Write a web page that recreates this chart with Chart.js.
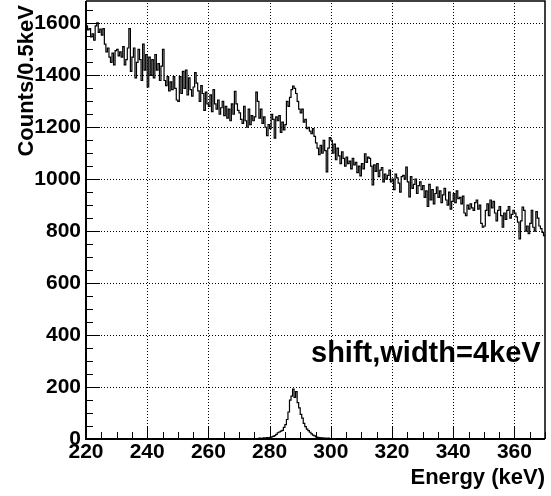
<!DOCTYPE html>
<html><head><meta charset="utf-8">
<script src="https://cdn.jsdelivr.net/npm/chart.js@4/dist/chart.umd.min.js"></script>
<style>html,body{margin:0;padding:0;background:#fff}#wrap{width:551px;height:496px}</style>
</head><body><div id="wrap"><canvas id="c" width="551" height="496"></canvas></div>
<script>
// Histogram binning (keV)
const binStart = 220;
const binWidth = 0.5;
// Main spectrum: counts per 0.5 keV bin, 220 - 370 keV
const counts = [
1590,1575,1580,1548,1560,1535,1590,1602,1565,1578,
1555,1580,1520,1490,1505,1470,1450,1485,1440,1495,
1500,1475,1490,1470,1510,1440,1460,1505,1580,1415,
1470,1505,1390,1450,1500,1460,1380,1520,1420,1480,
1355,1470,1400,1460,1390,1480,1420,1445,1380,1435,
1500,1380,1360,1395,1340,1375,1345,1395,1350,1305,
1300,1395,1330,1415,1350,1420,1325,1390,1345,1320,
1355,1410,1370,1340,1300,1360,1330,1265,1335,1290,
1280,1325,1260,1345,1290,1270,1305,1250,1275,1300,
1245,1280,1235,1270,1225,1290,1250,1338,1290,1265,
1255,1230,1215,1280,1225,1200,1270,1210,1245,1225,
1240,1335,1300,1235,1270,1215,1240,1200,1168,1210,
1195,1250,1230,1158,1240,1225,1245,1180,1220,1190,
1210,1300,1280,1315,1345,1358,1350,1330,1300,1270,
1255,1270,1220,1230,1195,1200,1185,1175,1195,1165,
1140,1120,1095,1130,1100,1150,1110,1028,1120,1160,
1150,1100,1135,1075,1120,1090,1060,1105,1080,1050,
1085,1060,1070,1040,1080,1055,1065,1025,1050,1013,
1060,1040,1098,1065,1085,1080,1050,978,1055,1030,
1060,1010,1035,1045,990,1020,1000,1015,1035,990,
1000,960,1020,1005,985,950,1010,1015,1000,1047,
990,932,1010,965,980,1000,945,975,990,960,
975,930,955,895,980,920,960,905,945,970,
930,955,910,940,965,920,900,950,885,915,
945,910,955,925,930,905,935,870,860,900,
885,905,890,880,910,920,885,900,830,815,
820,880,905,860,920,890,915,870,840,880,
895,860,815,870,845,880,895,850,865,880,
870,855,835,770,840,893,880,800,820,790,
830,880,815,800,875,850,820,810,795,783
];
// Simulated peak histogram (shift,width=4keV), non-zero region starting at 270 keV
const peakStart = 270;
const peakCounts = [
0,0,0,1,0,0,0,1,0,0,
1,2,1,3,2,3,4,3,5,4,
6,8,10,13,18,24,27,30,33,45,
55,75,104,150,165,192,160,182,140,120,
95,80,60,48,38,32,26,20,15,12,
8,6,5,4,4,3,3,2,3,2,
2,1,2,1,1,1,0,1,0,0
];
const xTicks = [220,240,260,280,300,320,340,360];
const yTicks = [0,200,400,600,800,1000,1200,1400,1600];
const xMin = 220, xMax = 370, yMin = 0, yMax = 1686;
const xMinorStep = 5, yMinorStep = 50;

function toSteps(vals, start) {
  const pts = vals.map((v, i) => ({x: start + i * binWidth, y: v}));
  pts.push({x: start + vals.length * binWidth, y: vals[vals.length - 1]});
  return pts;
}
const peakFull = counts.map((_, i) => {
  const e = binStart + i * binWidth;
  const k = Math.round((e - peakStart) / binWidth);
  return (k >= 0 && k < peakCounts.length) ? peakCounts[k] : 0;
});

const FONT = '"Liberation Sans", Arial, Helvetica, sans-serif';

const framePlugin = {
  id: 'frame',
  beforeDatasetsDraw(chart) {
    const {ctx, chartArea: a, scales: {x, y}} = chart;
    ctx.save();
    ctx.strokeStyle = '#000';
    ctx.lineWidth = 1;
    ctx.setLineDash([1, 2]);
    xTicks.forEach(v => {
      if (v === xMin) return;
      const px = Math.round(x.getPixelForValue(v)) + 0.5;
      ctx.beginPath(); ctx.moveTo(px, a.bottom); ctx.lineTo(px, a.top); ctx.stroke();
    });
    yTicks.forEach(v => {
      if (v === yMin) return;
      const py = Math.round(y.getPixelForValue(v)) + 0.5;
      ctx.beginPath(); ctx.moveTo(a.left, py); ctx.lineTo(a.right, py); ctx.stroke();
    });
    ctx.restore();
  },
  afterDatasetsDraw(chart) {
    const {ctx, chartArea: a, scales: {x, y}} = chart;
    ctx.save();
    ctx.strokeStyle = '#000';
    ctx.setLineDash([]);
    ctx.lineWidth = 1;
    for (let v = xMin; v <= xMax + 1e-9; v += xMinorStep) {
      const major = xTicks.includes(v);
      const px = Math.round(x.getPixelForValue(v)) + 0.5;
      ctx.beginPath(); ctx.moveTo(px, a.bottom); ctx.lineTo(px, a.bottom - (major ? 13 : 7)); ctx.stroke();
    }
    for (let v = yMin; v <= yMax + 1e-9; v += yMinorStep) {
      const major = yTicks.includes(v);
      const py = Math.round(y.getPixelForValue(v)) + 0.5;
      ctx.beginPath(); ctx.moveTo(a.left, py); ctx.lineTo(a.left + (major ? 14 : 7), py); ctx.stroke();
    }
    ctx.lineWidth = 2;
    ctx.beginPath();
    ctx.moveTo(a.left, a.top); ctx.lineTo(a.left, a.bottom); ctx.lineTo(a.right, a.bottom);
    ctx.stroke();
    ctx.lineWidth = 1.5;
    ctx.beginPath();
    ctx.moveTo(a.right, a.bottom); ctx.lineTo(a.right, a.top); ctx.lineTo(a.left, a.top);
    ctx.stroke();
    ctx.fillStyle = '#000';
    ctx.font = 'bold 22px ' + FONT;
    ctx.textAlign = 'right';
    ctx.textBaseline = 'alphabetic';
    ctx.fillText('Energy (keV)', a.right, 484);
    ctx.save();
    ctx.translate(33, 5);
    ctx.rotate(-Math.PI / 2);
    ctx.textAlign = 'right';
    ctx.fillText('Counts/0.5keV', 0, 0);
    ctx.restore();
    ctx.font = 'bold 29px ' + FONT;
    ctx.textAlign = 'left';
    ctx.fillText('shift,width=4keV', 311, 362);
    ctx.restore();
  }
};

new Chart(document.getElementById('c'), {
  type: 'line',
  data: {
    datasets: [
      {data: toSteps(counts, binStart), stepped: true, borderColor: '#000', borderWidth: 1.2, pointRadius: 0, fill: false},
      {data: toSteps(peakFull, binStart), stepped: true, borderColor: '#000', borderWidth: 1.2, pointRadius: 0, fill: false}
    ]
  },
  options: {
    responsive: false,
    animation: false,
    devicePixelRatio: 1,
    layout: {padding: {left: 0, right: 6, top: 1, bottom: 0}},
    plugins: {legend: {display: false}, tooltip: {enabled: false}},
    scales: {
      x: {
        type: 'linear', min: xMin, max: xMax,
        afterBuildTicks: s => { s.ticks = xTicks.map(v => ({value: v})); },
        afterFit: s => { s.height = 57; s.paddingLeft = 0; s.paddingRight = 0; },
        grid: {display: false, drawTicks: false},
        border: {display: false},
        ticks: {font: {family: FONT, size: 21, weight: 'bold'}, color: '#000', padding: 1, maxRotation: 0, autoSkip: false,
                callback: v => String(v)}
      },
      y: {
        type: 'linear', min: yMin, max: yMax,
        afterBuildTicks: s => { s.ticks = yTicks.map(v => ({value: v})); },
        afterFit: s => { s.width = 86; s.paddingTop = 0; s.paddingBottom = 0; },
        grid: {display: false, drawTicks: false},
        border: {display: false},
        ticks: {font: {family: FONT, size: 21, weight: 'bold'}, color: '#000', padding: 5, autoSkip: false,
                callback: v => String(v)}
      }
    }
  },
  plugins: [framePlugin]
});
</script>
</body></html>
